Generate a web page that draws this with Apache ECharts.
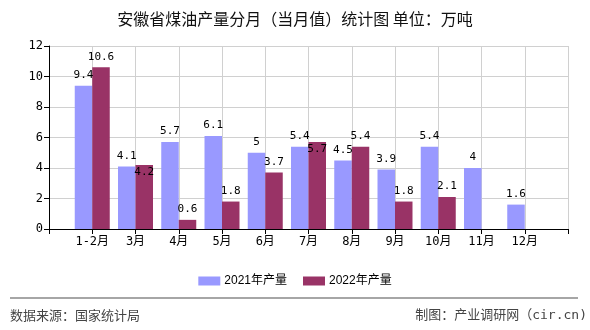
<!DOCTYPE html>
<html>
<head>
<meta charset="utf-8">
<script src="https://cdn.jsdelivr.net/npm/echarts@6/dist/echarts.min.js"></script>
<style>
html,body{margin:0;padding:0;background:#fff;}
#c{width:590px;height:330px;}
</style>
</head>
<body>
<div id="c"></div>
<script>
var months = ['1-2月','3月','4月','5月','6月','7月','8月','9月','10月','11月','12月'];
var values2021 = [9.4, 4.1, 5.7, 6.1, 5, 5.4, 4.5, 3.9, 5.4, 4, 1.6];
var values2022 = [10.6, 4.2, 0.6, 1.8, 3.7, 5.7, 5.4, 1.8, 2.1, null, null];
var seriesNames = ['2021年产量', '2022年产量'];
var yTicks = [0, 2, 4, 6, 8, 10, 12];

// labels of 2022 that sit inside the bar top (to avoid overlap)
var insideLabelIdx = [1, 5];

var cats = [''].concat(months).concat(['']);
function pad(arr){ return [null].concat(arr).concat([null]); }

var mono = "'DejaVu Sans Mono','Noto Sans CJK SC',monospace";
var labelBase = {show: true, position: 'top', distance: 5, color: '#000', fontSize: 11, fontFamily: mono};

var d2022 = pad(values2022).map(function(v, i){
  var k = i - 1;
  if (v !== null && insideLabelIdx.indexOf(k) >= 0) {
    return {value: v, label: {position: 'insideTop', distance: 2}};
  }
  return v;
});

var chart = echarts.init(document.getElementById('c'), null, {renderer: 'canvas'});
chart.setOption({
  animation: false,
  backgroundColor: '#fff',
  title: {
    text: '安徽省煤油产量分月（当月值）统计图 单位：万吨',
    left: 'center', top: 6,
    textStyle: {fontSize: 16, fontWeight: 'normal', color: '#111', fontFamily: "'Noto Sans CJK SC',sans-serif"}
  },
  legend: {
    data: seriesNames,
    left: 'center', top: 270,
    itemWidth: 22, itemHeight: 9, itemGap: 16,
    icon: 'rect',
    textStyle: {fontSize: 12, color: '#000', fontFamily: "'Liberation Sans','Noto Sans CJK SC',sans-serif", padding: [0,0,0,-1]}
  },
  grid: {left: 49, right: 22, top: 46, bottom: 101, containLabel: false},
  xAxis: {
    type: 'category',
    data: cats,
    boundaryGap: false,
    axisLine: {show: true, lineStyle: {color: '#000', width: 1}},
    axisTick: {show: true, length: 5, lineStyle: {color: '#000'}},
    axisLabel: {color: '#000', fontSize: 12, margin: 7, fontFamily: mono, interval: 0},
    splitLine: {show: true, lineStyle: {color: '#d0d0d0', width: 1}}
  },
  yAxis: {
    type: 'value',
    min: yTicks[0], max: yTicks[yTicks.length-1], interval: 2,
    axisLine: {show: true, lineStyle: {color: '#000', width: 1}},
    axisTick: {show: true, length: 5, lineStyle: {color: '#000'}},
    axisLabel: {color: '#000', fontSize: 12, margin: 6, fontFamily: mono},
    splitLine: {show: true, lineStyle: {color: '#d0d0d0', width: 1}}
  },
  series: [
    {
      name: seriesNames[0], type: 'bar', data: pad(values2021),
      barWidth: 17.5, barGap: '0%',
      itemStyle: {color: '#9999FF'},
      label: labelBase
    },
    {
      name: seriesNames[1], type: 'bar', data: d2022,
      barWidth: 17.5, barGap: '0%',
      itemStyle: {color: '#993366'},
      label: labelBase
    }
  ],
  graphic: [
    {type: 'line', shape: {x1: 10, y1: 298, x2: 578, y2: 298}, style: {stroke: '#888', lineWidth: 1.5}},
    {type: 'text', left: 10, top: 309, style: {text: '数据来源：国家统计局', fill: '#444', font: "13px 'Noto Sans CJK SC',sans-serif"}},
    {type: 'text', right: 3, top: 309, style: {text: '制图：产业调研网（cir.cn)', fill: '#444', font: "13px 'DejaVu Sans Mono','Noto Sans CJK SC',sans-serif"}}
  ]
});
</script>
</body>
</html>
